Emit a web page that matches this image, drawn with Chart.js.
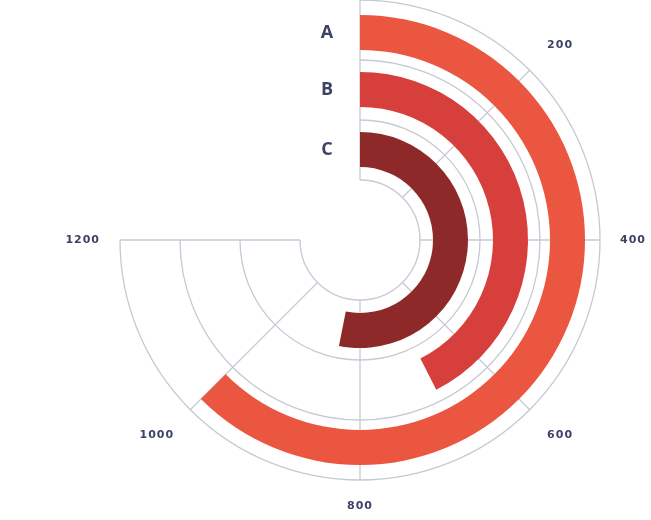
<!DOCTYPE html>
<html>
<head>
<meta charset="utf-8">
<script src="https://cdn.jsdelivr.net/npm/chart.js@4/dist/chart.umd.min.js"></script>
<style>
  html, body { margin: 0; padding: 0; background: #ffffff; }
  #wrap { position: relative; width: 651px; height: 520px; }
</style>
</head>
<body>
<div id="wrap"><canvas id="radialBars"></canvas></div>
<script>
// Radial bars: 0..1200 spread over 270 degrees, starting at 12 o'clock
const categories = ['A', 'B', 'C'];
const values = [1000, 680, 850];
const barColors = ['#ea5640', '#d63f3b', '#8d2a29'];
const tickValues = [200, 400, 600, 800, 1000, 1200];
const scaleMax = 1200;

const gridColor = '#c6c9d6';
const textColor = '#3e4264';

// ring thickness (weights) from outside to inside: gap, bar, gap, bar, gap, bar, gap
const gapWeights = [15, 22, 25, 13];
const barWeight = 35;

function buildDatasets() {
    const sets = [];
    const spacer = (w) => ({
        data: [1], weight: w, backgroundColor: ['rgba(0,0,0,0)'], borderWidth: 0, spacer: true
    });
    categories.forEach((cat, i) => {
        sets.push(spacer(gapWeights[i]));
        sets.push({
            label: cat,
            data: [values[i], scaleMax - values[i]],
            weight: barWeight,
            backgroundColor: [barColors[i], 'rgba(0,0,0,0)'],
            borderWidth: 0
        });
    });
    sets.push(spacer(gapWeights[3]));
    return sets;
}

const angleOf = (chart, v) => {
    const opts = chart.options;
    const start = (opts.rotation - 90) * Math.PI / 180;
    return start + (v / scaleMax) * opts.circumference * Math.PI / 180;
};

// grid rings, spokes and all the text around the chart
const radialGrid = {
    id: 'radialGrid',
    beforeDatasetsDraw(chart) {
        const first = chart.getDatasetMeta(0).data[0];
        const last = chart.getDatasetMeta(chart.data.datasets.length - 1).data[0];
        if (!first || !last) return;
        const cx = first.x, cy = first.y;
        const outer = first.outerRadius, inner = last.innerRadius;
        const start = angleOf(chart, 0), end = angleOf(chart, scaleMax);
        const ctx = chart.ctx;
        ctx.save();
        ctx.strokeStyle = gridColor;
        ctx.lineWidth = 1.3;
        const step = (outer - inner) / categories.length;
        for (let k = 0; k <= categories.length; k++) {
            ctx.beginPath();
            ctx.arc(cx, cy, inner + k * step, start, end);
            ctx.stroke();
        }
        [0].concat(tickValues).forEach(v => {
            const a = angleOf(chart, v);
            ctx.beginPath();
            ctx.moveTo(cx + inner * Math.cos(a), cy + inner * Math.sin(a));
            ctx.lineTo(cx + outer * Math.cos(a), cy + outer * Math.sin(a));
            ctx.stroke();
        });
        ctx.restore();
    },
    afterDatasetsDraw(chart) {
        const first = chart.getDatasetMeta(0).data[0];
        if (!first) return;
        const cx = first.x, cy = first.y, outer = first.outerRadius;
        const ctx = chart.ctx;
        ctx.save();
        ctx.fillStyle = textColor;
        ctx.textAlign = 'center';
        ctx.textBaseline = 'middle';

        // value labels just outside the outer ring
        ctx.font = 'bold 11px "DejaVu Sans", sans-serif';
        ctx.letterSpacing = '1px';
        tickValues.forEach(v => {
            const a = angleOf(chart, v);
            const dx = Math.cos(a), dy = Math.sin(a);
            const diag = Math.abs(dx) > 0.3 && Math.abs(dy) > 0.3;
            const pad = diag ? 30 : 20;
            const txt = String(v);
            const w = ctx.measureText(txt).width, h = 12;
            const x = cx + (outer + pad) * dx + dx * w / 2;
            const y = cy + (outer + pad) * dy + dy * h / 2;
            ctx.fillText(txt, x, y);
        });

        // category letters to the left of the start line
        ctx.letterSpacing = '0px';
        ctx.font = 'bold 18px "Open Sans", sans-serif';
        chart.data.datasets.forEach((ds, i) => {
            if (ds.spacer) return;
            const arc = chart.getDatasetMeta(i).data[0];
            const mid = (arc.innerRadius + arc.outerRadius) / 2;
            ctx.fillText(ds.label, cx - 33, cy - mid);
        });
        ctx.restore();
    }
};

function renderChart() {
    const canvas = document.getElementById('radialBars');
    new Chart(canvas, {
        type: 'doughnut',
        data: {
            labels: ['value', 'rest'],
            datasets: buildDatasets()
        },
        options: {
            responsive: true,
            maintainAspectRatio: false,
            animation: false,
            rotation: 0,
            circumference: 270,
            cutout: '25%',
            layout: { padding: { left: 120, right: 51, top: 0, bottom: 40 } },
            events: [],
            plugins: {
                legend: { display: false },
                tooltip: { enabled: false }
            }
        },
        plugins: [radialGrid]
    });
}

renderChart();
</script>
</body>
</html>
